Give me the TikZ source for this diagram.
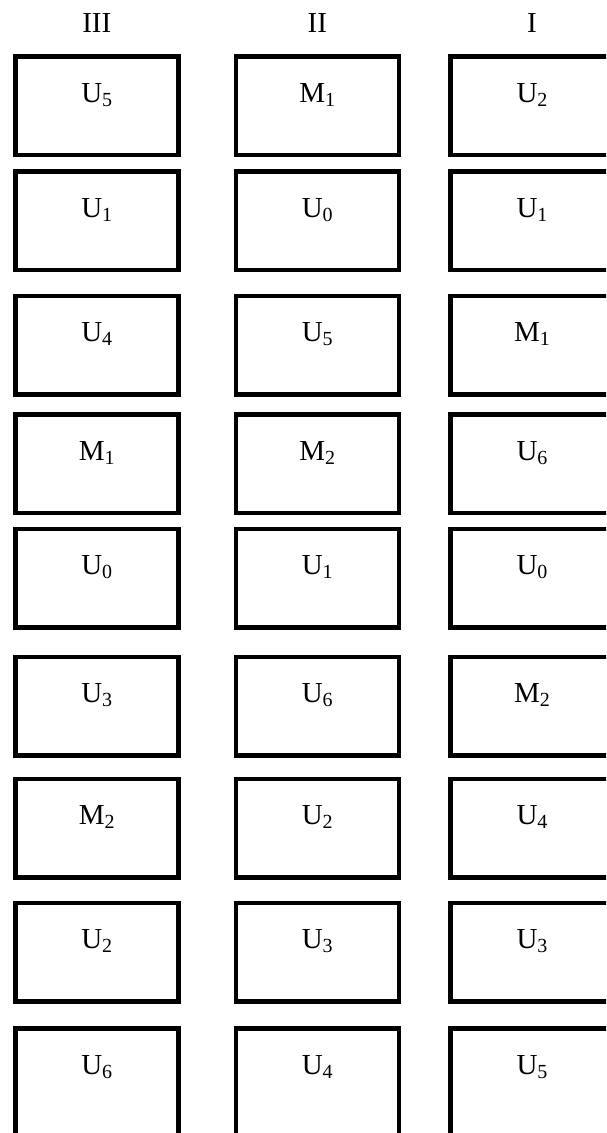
\documentclass[tikz,border=0pt]{standalone}
\usepackage{fontspec}
\setmainfont{Liberation Serif}
\newcommand{\lbl}[2]{#1\raisebox{-4pt}{\fontsize{20}{20}\selectfont #2}}
\tikzset{
  cell/.style={draw, line width=4.5pt, inner sep=0pt, outer sep=0pt,
    minimum width=163pt, text height=46pt, text depth=52.5pt, anchor=north,
    font=\fontsize{29}{29}\selectfont},
  lastcell/.style={cell, text depth=80pt},
  head/.style={anchor=base, inner sep=0pt, font=\fontsize{29}{29}\selectfont}
}
\begin{document}
\begin{tikzpicture}[x=1pt, y=-1pt]
\useasboundingbox (0,0) rectangle (606,1133);
\clip (0,0) rectangle (606,1133);
\fill[white] (0,0) rectangle (606,1133);
% column headers
\node[head] (h3) at (96.75,32) {III};
\node[head] (h2) at (317.25,32) {II};
\node[head] (h1) at (532,32) {I};
% column III
\foreach \t/\l/\s [count=\i] in {54/U/5,169/U/1,293.5/U/4,412/M/1,526.5/U/0,654.5/U/3,776.5/M/2,900.5/U/2}
  \node[cell] (c3r\i) at (96.75,\t+2.25) {\lbl{\l}{\s}};
\node[lastcell] (c3r9) at (96.75,1028.25) {\lbl{U}{6}};
% column II
\foreach \t/\l/\s [count=\i] in {54/M/1,169/U/0,293.5/U/5,412/M/2,526.5/U/1,654.5/U/6,776.5/U/2,900.5/U/3}
  \node[cell] (c2r\i) at (317.25,\t+2.25) {\lbl{\l}{\s}};
\node[lastcell] (c2r9) at (317.25,1028.25) {\lbl{U}{4}};
% column I
\foreach \t/\l/\s [count=\i] in {54/U/2,169/U/1,293.5/M/1,412/U/6,526.5/U/0,654.5/M/2,776.5/U/4,900.5/U/3}
  \node[cell] (c1r\i) at (532,\t+2.25) {\lbl{\l}{\s}};
\node[lastcell] (c1r9) at (532,1028.25) {\lbl{U}{5}};
\end{tikzpicture}
\end{document}
